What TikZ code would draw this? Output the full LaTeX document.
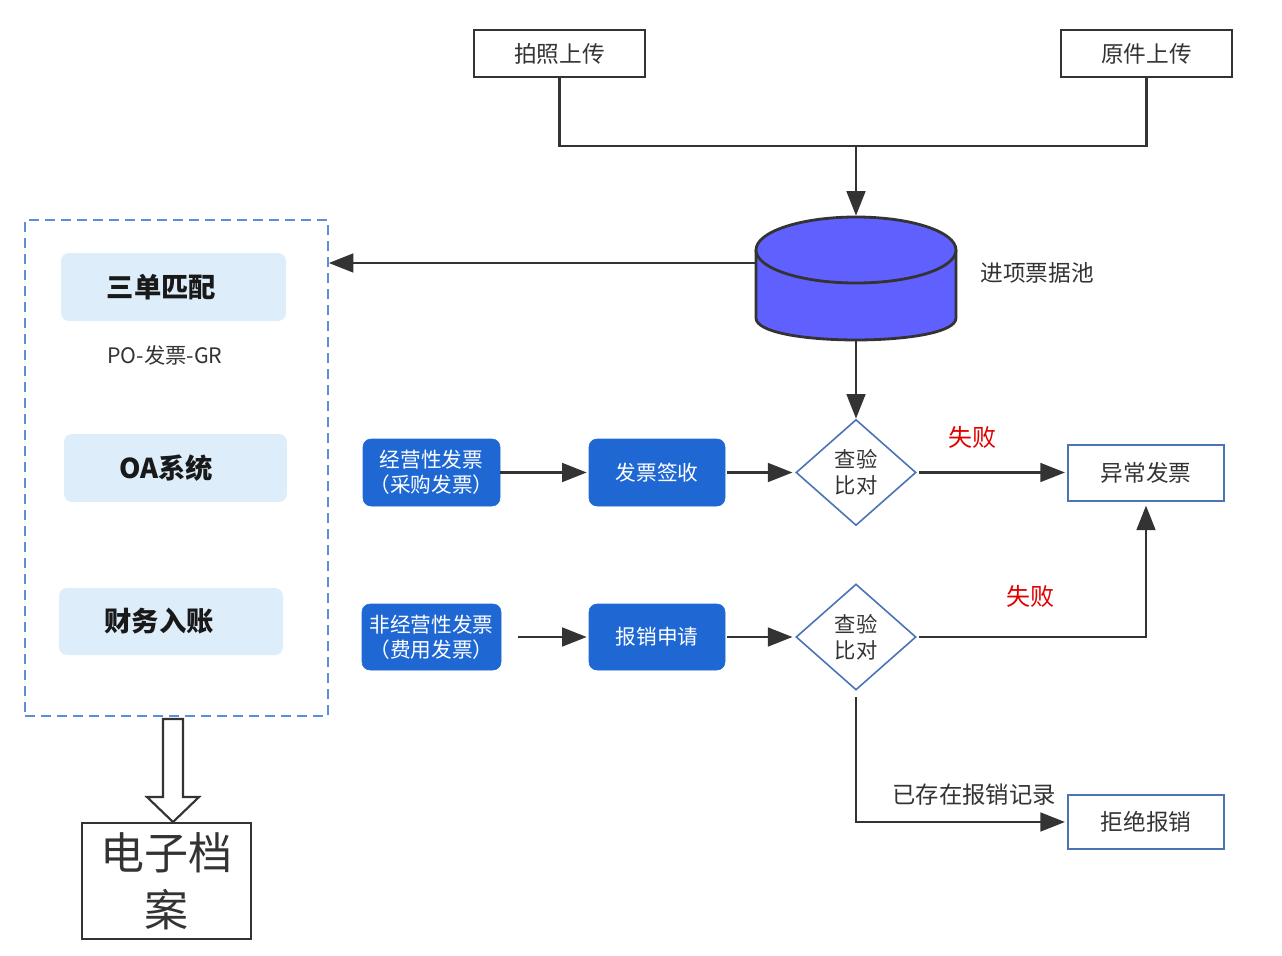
\documentclass[tikz,border=0pt]{standalone}
\usepackage{fontspec}
\setmainfont{Noto Sans CJK SC}
\usetikzlibrary{arrows.meta,shapes.geometric,calc}
\definecolor{ln}{RGB}{51,51,51}
\definecolor{dashb}{RGB}{94,142,214}
\definecolor{lightb}{RGB}{221,238,250}
\definecolor{btnb}{RGB}{31,104,212}
\definecolor{dblue}{RGB}{74,116,181}
\definecolor{poolc}{RGB}{96,96,255}
\definecolor{failr}{RGB}{225,0,0}
\begin{document}
\begin{tikzpicture}[x=0.75pt,y=-0.75pt,
  conn/.style={draw=ln, line width=2.1pt},
  arr/.style={draw=ln, line width=2.1pt, -{Triangle[length=18.5pt,width=14pt]}},
  upbox/.style={draw=ln, line width=2.1pt, minimum width=128.25pt, minimum height=35.25pt, inner sep=0pt, font=\fontsize{17}{20}\selectfont, text=ln},
  lbbox/.style={fill=lightb, rounded corners=6pt, inner sep=0pt, font=\bfseries\fontsize{20.5}{24}\selectfont, text=black!90},
  bbtn/.style={fill=btnb, draw=btnb, rounded corners=6pt, inner sep=0pt, align=center, text=white, font=\fontsize{15.5}{18.5}\selectfont},
  dia/.style={diamond, draw=dblue, line width=1.2pt, fill=white, minimum width=90pt, minimum height=79.5pt, inner sep=0pt, align=center, font=\fontsize{16}{19.5}\selectfont, text=ln},
  obox/.style={draw=dblue, line width=1.5pt, minimum width=117pt, inner sep=0pt, font=\fontsize{17}{20}\selectfont, text=ln},
  lbl/.style={font=\fontsize{17.5}{20}\selectfont, text=ln},
  fail/.style={font=\fontsize{18}{20}\selectfont, text=failr}
]
\useasboundingbox (0,0) rectangle (1282,956);

% top upload boxes
\node[upbox] (up1) at (559.5,53.5) {拍照上传};
\node[upbox] (up2) at (1146.5,53.5) {原件上传};

% pool (cylinder)
\node[minimum width=150pt, minimum height=93pt, inner sep=0pt] (pool) at (856,278) {};
\fill[poolc] (756,250) -- (756,318) .. controls (756,347.3) and (956,347.3) .. (956,318) -- (956,250) -- cycle;
\draw[ln, line width=2.1pt] (756,250) -- (756,318) .. controls (756,347.3) and (956,347.3) .. (956,318) -- (956,250);
\draw[ln, fill=poolc, line width=2.1pt] (856,250) ellipse [x radius=100, y radius=33];
\node[font=\fontsize{17}{20}\selectfont, text=ln] (pooltxt) at (1037,273) {进项票据池};

% left group
\node[draw=dashb, dash pattern=on 7.5pt off 4.5pt, line width=1.1pt, minimum width=227.25pt, minimum height=372pt, inner sep=0pt] (grp) at (176.5,468) {};
\node[lbbox, minimum width=168.75pt, minimum height=51pt] (m1) at (173.5,287) {三单匹配\hspace*{18pt}};
\node[font=\fontsize{16}{18}\selectfont, text=ln] (po) at (165,355) {PO-发票-GR};
\node[lbbox, minimum width=167.25pt, minimum height=51pt] (oa) at (175.5,468) {OA系统\hspace*{14pt}};
\node[lbbox, minimum width=168pt, minimum height=50.25pt] (fin) at (171,621.5) {财务入账\hspace*{18pt}};

% archive
\node[draw=ln, line width=2.1pt, minimum width=126.75pt, minimum height=87pt, inner sep=0pt, align=center, font=\fontsize{33}{43}\selectfont, text=ln] (arch) at (166.5,881) {电子档\\案};

% blue buttons
\node[bbtn, minimum width=102.75pt, minimum height=50.25pt] (b1) at (431.5,472.5) {经营性发票\\（采购发票）};
\node[bbtn, minimum width=102pt, minimum height=50.25pt] (b2) at (657,472.5) {发票签收};
\node[bbtn, minimum width=104.25pt, minimum height=49.5pt] (b3) at (431.5,637) {非经营性发票\\（费用发票）};
\node[bbtn, minimum width=102pt, minimum height=49.5pt] (b4) at (657,637) {报销申请};

% diamonds
\node[dia] (d1) at (856,472.5) {查验\\比对};
\node[dia] (d2) at (856,637) {查验\\比对};

% result boxes
\node[obox, minimum height=42pt] (err) at (1146,472.5) {异常发票};
\node[obox, minimum height=40.5pt] (rej) at (1146,822) {拒绝报销};

% connectors
\coordinate (J) at (856,146);
\draw[conn] (up1.south) |- (J) -| (up2.south);
\draw[arr] (J) -- (pool.north);
\coordinate (pl) at (756,263);
\draw[arr] (pl) -- (pl -| grp.east);
\draw[arr] (pool.south) -- (d1.north);

\draw[arr, shorten >=1.5pt] (b1.east) -- (b2.west);
\draw[arr, shorten <=1.5pt, shorten >=2pt] (b2.east) -- (d1.west);
\draw[arr, shorten <=12.75pt, shorten >=1.5pt] (b3.east) -- (b4.west);
\draw[arr, shorten <=1.5pt, shorten >=2pt] (b4.east) -- (d2.west);

\draw[arr, shorten <=2pt, shorten >=1.5pt] (d1.east) -- (err.west);
\node[fail] (f1) at (972,437) {失败};
\draw[arr, shorten <=2pt, shorten >=3pt] (d2.east) -| (err.south);
\node[fail] (f2) at (1030,596) {失败};
\draw[arr, shorten <=5pt, shorten >=1.5pt] (d2.south) |- (rej.west);
\node[lbl] (ex) at (974,795) {已存在报销记录};

% hollow arrow to archive
\coordinate (ha) at (173,719);
\coordinate (hb) at (173,822);
\draw[ln, line width=1.6pt, fill=white, line join=miter]
  ($(ha)+(-10,0)$) -- ($(ha)+(10,0)$) -- ($(hb)+(10,-25)$) -- ($(hb)+(26,-25)$) -- (hb)
  -- ($(hb)+(-26,-25)$) -- ($(hb)+(-10,-25)$) -- cycle;
\end{tikzpicture}
\end{document}
